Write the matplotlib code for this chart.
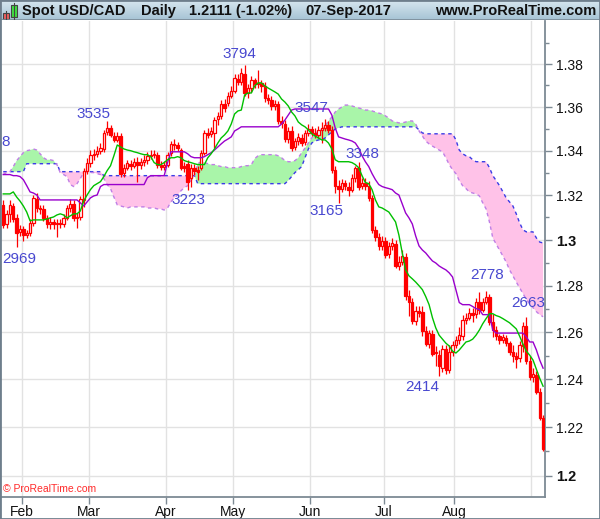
import matplotlib
matplotlib.use("Agg")
import matplotlib.pyplot as plt
import matplotlib.ticker as mticker
from matplotlib.patches import Rectangle
from matplotlib.colors import LinearSegmentedColormap
import numpy as np

plt.rcParams['font.family'] = ['Liberation Sans', 'DejaVu Sans']

# ---- daily USD/CAD candles, 25-Jan-2017 .. 07-Sep-2017 ----
opens = [
    1.3156, 1.3071, 1.3116, 1.3151, 1.3098, 1.3036, 1.3049, 1.3022, 1.3031, 1.3076,
    1.3182, 1.3142, 1.3138, 1.3098, 1.3071, 1.3080, 1.3071, 1.3076, 1.3071, 1.3098,
    1.3142, 1.3160, 1.3098, 1.3102, 1.3178, 1.3310, 1.3346, 1.3382, 1.3386, 1.3400,
    1.3408, 1.3486, 1.3504, 1.3467, 1.3449, 1.3467, 1.3301, 1.3323, 1.3341, 1.3332,
    1.3350, 1.3337, 1.3350, 1.3359, 1.3377, 1.3382, 1.3382, 1.3337, 1.3328, 1.3337,
    1.3391, 1.3431, 1.3426, 1.3403, 1.3332, 1.3341, 1.3278, 1.3323, 1.3314, 1.3323,
    1.3391, 1.3481, 1.3477, 1.3481, 1.3545, 1.3559, 1.3614, 1.3619, 1.3651, 1.3674,
    1.3730, 1.3716, 1.3754, 1.3665, 1.3688, 1.3726, 1.3707, 1.3712, 1.3698, 1.3642,
    1.3633, 1.3605, 1.3614, 1.3536, 1.3522, 1.3453, 1.3490, 1.3417, 1.3444, 1.3458,
    1.3440, 1.3481, 1.3499, 1.3481, 1.3472, 1.3495, 1.3504, 1.3518, 1.3495, 1.3314,
    1.3242, 1.3229, 1.3256, 1.3238, 1.3224, 1.3278, 1.3323, 1.3242, 1.3256, 1.3242,
    1.3187, 1.3045, 1.3013, 1.2974, 1.2996, 1.2938, 1.2974, 1.2982, 1.2886, 1.2903,
    1.2925, 1.2757, 1.2731, 1.2649, 1.2692, 1.2688, 1.2606, 1.2549, 1.2592, 1.2511,
    1.2502, 1.2447, 1.2528, 1.2438, 1.2515, 1.2545, 1.2566, 1.2583, 1.2653, 1.2662,
    1.2684, 1.2679, 1.2731, 1.2697, 1.2731, 1.2753, 1.2645, 1.2609, 1.2583, 1.2566,
    1.2575, 1.2553, 1.2515, 1.2498, 1.2489, 1.2541, 1.2626, 1.2477, 1.2409, 1.2417,
    1.2346, 1.2237]
highs = [
    1.3178, 1.3133, 1.3178, 1.3165, 1.3116, 1.3067, 1.3062, 1.3045, 1.3093, 1.3200,
    1.3209, 1.3156, 1.3156, 1.3111, 1.3102, 1.3093, 1.3093, 1.3093, 1.3116, 1.3156,
    1.3182, 1.3178, 1.3120, 1.3196, 1.3323, 1.3368, 1.3403, 1.3408, 1.3421, 1.3435,
    1.3495, 1.3535, 1.3518, 1.3486, 1.3486, 1.3481, 1.3341, 1.3359, 1.3359, 1.3368,
    1.3373, 1.3368, 1.3382, 1.3395, 1.3403, 1.3403, 1.3395, 1.3355, 1.3355, 1.3395,
    1.3444, 1.3453, 1.3440, 1.3412, 1.3350, 1.3359, 1.3341, 1.3341, 1.3332, 1.3403,
    1.3495, 1.3504, 1.3509, 1.3554, 1.3577, 1.3633, 1.3637, 1.3670, 1.3698, 1.3754,
    1.3754, 1.3781, 1.3794, 1.3707, 1.3744, 1.3735, 1.3772, 1.3726, 1.3716, 1.3660,
    1.3651, 1.3633, 1.3628, 1.3559, 1.3540, 1.3509, 1.3513, 1.3458, 1.3481, 1.3477,
    1.3495, 1.3522, 1.3513, 1.3504, 1.3513, 1.3531, 1.3547, 1.3536, 1.3513, 1.3332,
    1.3269, 1.3274, 1.3269, 1.3260, 1.3296, 1.3330, 1.3348, 1.3278, 1.3278, 1.3265,
    1.3200, 1.3062, 1.3031, 1.3018, 1.3013, 1.2991, 1.3009, 1.3000, 1.2930, 1.2956,
    1.2943, 1.2783, 1.2748, 1.2714, 1.2714, 1.2714, 1.2628, 1.2609, 1.2609, 1.2541,
    1.2524, 1.2545, 1.2545, 1.2545, 1.2562, 1.2583, 1.2622, 1.2675, 1.2684, 1.2705,
    1.2705, 1.2748, 1.2774, 1.2748, 1.2778, 1.2766, 1.2679, 1.2628, 1.2592, 1.2592,
    1.2587, 1.2562, 1.2545, 1.2515, 1.2562, 1.2645, 1.2663, 1.2498, 1.2447, 1.2434,
    1.2362, 1.2250]
lows = [
    1.3054, 1.3054, 1.3080, 1.3080, 1.2969, 1.3018, 1.2996, 1.3009, 1.3018, 1.3062,
    1.3124, 1.3116, 1.3084, 1.3054, 1.3049, 1.3049, 1.3013, 1.3054, 1.3058, 1.3089,
    1.3124, 1.3084, 1.3054, 1.3089, 1.3147, 1.3296, 1.3328, 1.3359, 1.3373, 1.3386,
    1.3395, 1.3472, 1.3463, 1.3440, 1.3440, 1.3283, 1.3283, 1.3314, 1.3314, 1.3323,
    1.3260, 1.3319, 1.3332, 1.3341, 1.3364, 1.3368, 1.3323, 1.3314, 1.3314, 1.3328,
    1.3377, 1.3403, 1.3400, 1.3314, 1.3305, 1.3223, 1.3236, 1.3292, 1.3269, 1.3314,
    1.3382, 1.3458, 1.3463, 1.3412, 1.3518, 1.3545, 1.3577, 1.3605, 1.3642, 1.3665,
    1.3702, 1.3702, 1.3651, 1.3642, 1.3670, 1.3688, 1.3688, 1.3670, 1.3623, 1.3614,
    1.3586, 1.3586, 1.3522, 1.3504, 1.3440, 1.3435, 1.3400, 1.3403, 1.3426, 1.3421,
    1.3426, 1.3467, 1.3467, 1.3458, 1.3458, 1.3435, 1.3490, 1.3481, 1.3301, 1.3209,
    1.3165, 1.3214, 1.3224, 1.3196, 1.3214, 1.3260, 1.3224, 1.3229, 1.3224, 1.3173,
    1.3031, 1.2996, 1.2956, 1.2956, 1.2921, 1.2921, 1.2956, 1.2877, 1.2869, 1.2890,
    1.2740, 1.2671, 1.2636, 1.2632, 1.2666, 1.2583, 1.2540, 1.2532, 1.2498, 1.2455,
    1.2414, 1.2430, 1.2421, 1.2425, 1.2498, 1.2532, 1.2549, 1.2566, 1.2636, 1.2653,
    1.2645, 1.2662, 1.2679, 1.2688, 1.2722, 1.2632, 1.2579, 1.2566, 1.2549, 1.2553,
    1.2541, 1.2502, 1.2472, 1.2447, 1.2472, 1.2515, 1.2464, 1.2396, 1.2388, 1.2337,
    1.2229, 1.2102]
closes = [
    1.3067, 1.3116, 1.3156, 1.3093, 1.3031, 1.3049, 1.3022, 1.3031, 1.3076, 1.3187,
    1.3142, 1.3138, 1.3098, 1.3071, 1.3080, 1.3071, 1.3076, 1.3071, 1.3098, 1.3142,
    1.3160, 1.3098, 1.3102, 1.3182, 1.3310, 1.3346, 1.3382, 1.3386, 1.3400, 1.3412,
    1.3481, 1.3504, 1.3472, 1.3449, 1.3467, 1.3296, 1.3323, 1.3346, 1.3332, 1.3350,
    1.3337, 1.3350, 1.3359, 1.3377, 1.3382, 1.3386, 1.3337, 1.3328, 1.3337, 1.3382,
    1.3431, 1.3426, 1.3412, 1.3323, 1.3323, 1.3260, 1.3323, 1.3310, 1.3305, 1.3391,
    1.3481, 1.3472, 1.3490, 1.3540, 1.3559, 1.3614, 1.3596, 1.3651, 1.3674, 1.3735,
    1.3716, 1.3758, 1.3665, 1.3688, 1.3726, 1.3707, 1.3712, 1.3698, 1.3642, 1.3633,
    1.3605, 1.3614, 1.3536, 1.3527, 1.3453, 1.3490, 1.3412, 1.3444, 1.3463, 1.3435,
    1.3481, 1.3499, 1.3481, 1.3472, 1.3495, 1.3504, 1.3518, 1.3495, 1.3314, 1.3242,
    1.3229, 1.3256, 1.3242, 1.3224, 1.3278, 1.3323, 1.3238, 1.3256, 1.3242, 1.3187,
    1.3045, 1.3013, 1.2974, 1.2996, 1.2934, 1.2974, 1.2987, 1.2886, 1.2903, 1.2930,
    1.2757, 1.2731, 1.2649, 1.2692, 1.2684, 1.2606, 1.2549, 1.2596, 1.2506, 1.2515,
    1.2455, 1.2528, 1.2438, 1.2515, 1.2545, 1.2566, 1.2587, 1.2653, 1.2662, 1.2684,
    1.2675, 1.2731, 1.2697, 1.2731, 1.2753, 1.2645, 1.2609, 1.2583, 1.2566, 1.2579,
    1.2553, 1.2515, 1.2498, 1.2485, 1.2545, 1.2626, 1.2477, 1.2409, 1.2421, 1.2346,
    1.2237, 1.2111]

# ---- Ichimoku lines as drawn ----
tenkan = [
    1.3205, 1.3205, 1.3205, 1.3214, 1.3191, 1.3173, 1.3151, 1.3124, 1.3085, 1.3089,
    1.3089, 1.3089, 1.3089, 1.3093, 1.3098, 1.3102, 1.3111, 1.3116, 1.3111, 1.3098,
    1.3107, 1.3116, 1.3116, 1.3129, 1.3173, 1.3200, 1.3224, 1.3242, 1.3251, 1.3260,
    1.3283, 1.3310, 1.3332, 1.3377, 1.3426, 1.3417, 1.3408, 1.3403, 1.3400, 1.3395,
    1.3391, 1.3386, 1.3382, 1.3382, 1.3373, 1.3346, 1.3337, 1.3337, 1.3346, 1.3359,
    1.3368, 1.3368, 1.3373, 1.3368, 1.3355, 1.3350, 1.3346, 1.3341, 1.3337, 1.3337,
    1.3337, 1.3368, 1.3386, 1.3408, 1.3435, 1.3458, 1.3472, 1.3490, 1.3522, 1.3568,
    1.3582, 1.3586, 1.3656, 1.3665, 1.3665, 1.3698, 1.3712, 1.3712, 1.3698, 1.3688,
    1.3679, 1.3670, 1.3660, 1.3637, 1.3623, 1.3605, 1.3577, 1.3559, 1.3531, 1.3518,
    1.3509, 1.3495, 1.3477, 1.3467, 1.3458, 1.3449, 1.3449, 1.3435, 1.3408, 1.3359,
    1.3350, 1.3350, 1.3350, 1.3350, 1.3346, 1.3337, 1.3323, 1.3287, 1.3256, 1.3251,
    1.3224, 1.3178, 1.3147, 1.3142, 1.3133, 1.3124, 1.3102, 1.3080, 1.3022, 1.2943,
    1.2869, 1.2843, 1.2830, 1.2816, 1.2800, 1.2783, 1.2753, 1.2718, 1.2662, 1.2618,
    1.2587, 1.2570, 1.2553, 1.2541, 1.2519, 1.2511, 1.2524, 1.2541, 1.2558, 1.2562,
    1.2570, 1.2587, 1.2609, 1.2636, 1.2658, 1.2679, 1.2679, 1.2671, 1.2666, 1.2658,
    1.2649, 1.2640, 1.2627, 1.2614, 1.2583, 1.2549, 1.2519, 1.2502, 1.2481, 1.2443,
    1.2404, 1.2371]
kijun = ([1.3292, 1.3292, 1.3292, 1.3287, 1.3287, 1.3283, 1.3269, 1.3242, 1.3214, 1.3209,
          1.3200] + [1.3178] * 12 +
         [1.3165, 1.3151, 1.3169, 1.3187, 1.3196, 1.3200, 1.3238] + [1.3247] * 13 +
         [1.3278] + [1.3287] * 5 + [1.3346] + [1.3395] * 5 + [1.3386, 1.3373] +
         [1.3368] * 3 +
         [1.3373, 1.3382, 1.3391, 1.3403, 1.3417, 1.3431, 1.3444, 1.3453, 1.3463, 1.3490,
          1.3499] + [1.3509] * 12 + [1.3522, 1.3540, 1.3563, 1.3586] + [1.3591] * 11 +
         [1.3563, 1.3504, 1.3463, 1.3458, 1.3453, 1.3449, 1.3444, 1.3435, 1.3412, 1.3377,
          1.3350, 1.3328, 1.3296, 1.3269, 1.3247, 1.3238, 1.3233, 1.3229, 1.3224, 1.3209,
          1.3200, 1.3160, 1.3120, 1.3098, 1.3071, 1.3018, 1.2974, 1.2956, 1.2943, 1.2925,
          1.2908, 1.2899, 1.2886, 1.2877, 1.2869, 1.2856, 1.2838, 1.2783, 1.2727] +
         [1.2718] * 3 + [1.2710, 1.2701, 1.2697] + [1.2675] * 3 + [1.2609] +
         [1.2596] * 9 + [1.2579, 1.2558, 1.2558, 1.2524, 1.2481, 1.2447])
span_a = [
    1.3292, 1.3301, 1.3305, 1.3328, 1.3355, 1.3373, 1.3391, 1.3400, 1.3403, 1.3408,
    1.3403, 1.3386, 1.3368, 1.3359, 1.3359, 1.3355, 1.3337, 1.3301, 1.3292, 1.3283,
    1.3247, 1.3238, 1.3251, 1.3274, 1.3301, 1.3305, 1.3301, 1.3301, 1.3296, 1.3292,
    1.3274, 1.3247, 1.3229, 1.3191, 1.3156, 1.3151, 1.3147, 1.3142, 1.3147, 1.3147,
    1.3147, 1.3147, 1.3147, 1.3142, 1.3142, 1.3142, 1.3138, 1.3138, 1.3133, 1.3142,
    1.3169, 1.3187, 1.3200, 1.3219, 1.3233, 1.3242, 1.3265, 1.3283, 1.3341, 1.3350,
    1.3346, 1.3341, 1.3337, 1.3337, 1.3332, 1.3328, 1.3328, 1.3323, 1.3323, 1.3323,
    1.3323, 1.3328, 1.3332, 1.3332, 1.3337, 1.3364, 1.3377, 1.3382, 1.3382, 1.3382,
    1.3382, 1.3382, 1.3377, 1.3368, 1.3355, 1.3350, 1.3350, 1.3355, 1.3368, 1.3391,
    1.3412, 1.3435, 1.3458, 1.3477, 1.3490, 1.3499, 1.3513, 1.3536, 1.3554, 1.3577,
    1.3591, 1.3600, 1.3609, 1.3609, 1.3605, 1.3600, 1.3596, 1.3591, 1.3586, 1.3586,
    1.3582, 1.3577, 1.3572, 1.3568, 1.3559, 1.3549, 1.3536, 1.3531, 1.3527, 1.3527,
    1.3531, 1.3536, 1.3536, 1.3522, 1.3490, 1.3467, 1.3444, 1.3431, 1.3421, 1.3412,
    1.3403, 1.3395, 1.3368, 1.3337, 1.3314, 1.3296, 1.3265, 1.3242, 1.3229, 1.3214,
    1.3209, 1.3205, 1.3196, 1.3165, 1.3138, 1.3080, 1.3009, 1.2982, 1.2956, 1.2930,
    1.2903, 1.2869, 1.2843, 1.2816, 1.2791, 1.2766, 1.2740, 1.2722, 1.2705, 1.2688,
    1.2675, 1.2666]
span_b = ([1.3305] * 7 + [1.3341] * 10 + [1.3305] * 13 + [1.3287] * 28 + [1.3251] * 27 +
          [1.3265, 1.3283, 1.3301, 1.3314, 1.3328, 1.3368, 1.3408, 1.3435, 1.3444, 1.3449,
           1.3449, 1.3458, 1.3472, 1.3486, 1.3499, 1.3504] + [1.3509] * 23 +
          [1.3495, 1.3481] + [1.3477] * 9 +
          [1.3449, 1.3403, 1.3386, 1.3377, 1.3373, 1.3359] + [1.3350] * 4 +
          [1.3323, 1.3287, 1.3265, 1.3242, 1.3214, 1.3187, 1.3169, 1.3151, 1.3116, 1.3076,
           1.3045] + [1.3036] * 3 + [1.3009, 1.2991, 1.2987])

month_names = ["Feb", "Mar", "Apr", "May", "Jun", "Jul", "Aug", "Sep"]
month_start = [5, 25, 48, 68, 91, 113, 134, 157]      # bar index of month's first day
price_ticks = [1.20, 1.22, 1.24, 1.26, 1.28, 1.30, 1.32, 1.34, 1.36, 1.38]
price_labels = ["1.2", "1.22", "1.24", "1.26", "1.28", "1.3", "1.32", "1.34", "1.36", "1.38"]
minor_ticks = [1.19, 1.21, 1.23, 1.25, 1.27, 1.29, 1.31, 1.33, 1.35, 1.37, 1.39]
# high / low markers; the first one only shows its last digit at the left edge
extreme_labels = ["8", "2969", "3535", "3223", "3794", "3547", "3348", "3165", "2414", "2778", "2663"]

W, H = 600, 519
AX_R, AX_T, AX_B = 545, 21, 497      # plot box in pixels

fig = plt.figure(figsize=(W / 100, H / 100), dpi=100)
ax = fig.add_axes([0, 1 - AX_B / H, AX_R / W, (AX_B - AX_T) / H])

x = np.arange(len(closes))
o = np.array(opens); c = np.array(closes)
h = np.array(highs); l = np.array(lows)
sa = np.array(span_a); sb = np.array(span_b)

ax.set_yscale('log')

# cloud
ax.fill_between(x, sa, sb, where=sa >= sb, interpolate=True, color='#a9f5a9', lw=0, zorder=1)
ax.fill_between(x, sa, sb, where=sa < sb, interpolate=True, color='#ffc2e8', lw=0, zorder=1)
ax.plot(x, sb, color='#3b3be6', lw=1, ls=(0, (2.5, 2.5)), zorder=2)
ax.plot(x, sa, color='#c07fe6', lw=1, ls=(0, (2.5, 2.5)), zorder=2)

# candles: hollow = up, filled = down
up = c >= o
ax.vlines(x, l, h, color='#ff0000', lw=0.9, zorder=3)
lo = np.minimum(o, c); hgt = np.abs(c - o)
ax.bar(x[up], hgt[up], bottom=lo[up], width=0.7, facecolor='white',
       edgecolor='#ff0000', lw=0.9, zorder=4)
ax.bar(x[~up], hgt[~up], bottom=lo[~up], width=0.7, facecolor='#ff0000',
       edgecolor='#ff0000', lw=0.9, zorder=4)

ax.plot(x, kijun, color='#9900cc', lw=1, zorder=5)
ax.plot(x, tenkan, color='#00c000', lw=1, zorder=5)

# axes
ax.set_xlim(-0.966, 161.57)
ax.set_ylim(1.19146, 1.40028)
ax.yaxis.set_major_locator(mticker.FixedLocator(price_ticks))
ax.yaxis.set_major_formatter(mticker.FixedFormatter(price_labels))
ax.yaxis.set_minor_locator(mticker.FixedLocator(minor_ticks))
ax.yaxis.set_minor_formatter(mticker.NullFormatter())
ax.yaxis.tick_right()
ax.tick_params(axis='y', which='major', length=5, width=1, color='#7d8a94',
               labelsize=10, pad=3, labelcolor='#111111')
ax.tick_params(axis='y', which='minor', length=3, width=1, color='#7d8a94')

grid_x = [m + 0.5 for m in month_start]
ax.set_xticks(grid_x[:7], month_names[:7])
ax.tick_params(axis='x', length=5, width=1, color='#7d8a94', labelsize=10,
               pad=1, labelcolor='#111111')
for gx in grid_x:
    ax.axvline(gx, color='#e2e2e2', lw=1, zorder=0)
for p in price_ticks:
    ax.axhline(p, color='#e2e2e2', lw=1, zorder=0)

for s in ('top', 'left'):
    ax.spines[s].set_visible(False)
for s in ('right', 'bottom'):
    ax.spines[s].set_color('#7d8a94')
    ax.spines[s].set_linewidth(1.3)

fig.canvas.draw()
for t in ax.get_yticklabels():
    if t.get_text() in ('1.2', '1.3'):
        t.set_fontweight('bold')
        t.set_fontsize(10.5)


def px(xp, yp):
    return xp / AX_R, (AX_B - yp) / (AX_B - AX_T)


label_px = [(1, 142), (19, 259), (93, 114), (188, 200), (239, 54), (311, 108),
            (362, 154), (326, 211), (422, 387), (487, 275), (528, 303)]
for txt, (xp, yp) in zip(extreme_labels, label_px):
    fx, fy = px(xp, yp)
    ax.text(fx, fy, txt, transform=ax.transAxes, ha='left' if txt == "8" else 'center',
            va='center', color='#4848d0', fontsize=11, zorder=6)

fx, fy = px(3, 489)
ax.text(fx, fy, "\u00a9 ProRealTime.com", transform=ax.transAxes, ha='left',
        va='center', color='#ff2a2a', fontsize=7.5, zorder=6)

# header bar
hx = fig.add_axes([0, 1 - 20 / H, 1, 20 / H])
cmap = LinearSegmentedColormap.from_list('hdr', ['#d6e6ef', '#a7c4d5'])
hx.imshow(np.linspace(0, 1, 20).reshape(-1, 1), aspect='auto', cmap=cmap,
          extent=[0, W, 20, 0])
hx.set_xlim(0, W); hx.set_ylim(20, 0); hx.axis('off')
hx.axhline(19.5, color='#7a8a96', lw=1.2)
# little candle icon
hx.plot([6, 6], [11, 20], color='#444444', lw=0.8)
hx.add_patch(Rectangle((3, 13), 6, 6, facecolor='#f06060', edgecolor='#444444', lw=0.8))
hx.plot([14, 14], [3, 20], color='#444444', lw=0.8)
hx.add_patch(Rectangle((11, 5), 6, 12, facecolor='#40e040', edgecolor='#444444', lw=0.8))
hdr = dict(fontsize=10.5, fontweight='bold', va='center', color='#111111')
hx.text(22, 11, "Spot USD/CAD", ha='left', **hdr)
hx.text(141, 11, "Daily", ha='left', **hdr)
hx.text(189, 11, "1.2111 (-1.02%)", ha='left', **hdr)
hx.text(305, 11, "07-Sep-2017", ha='left', **hdr)
hx.text(596, 11, "www.ProRealTime.com", ha='right', **hdr)

fig.add_artist(Rectangle((0, 0), 1, 1, transform=fig.transFigure, fill=False,
                         edgecolor='#6e7e8c', lw=2))

fig.savefig('out.png', dpi=100, facecolor='white')
